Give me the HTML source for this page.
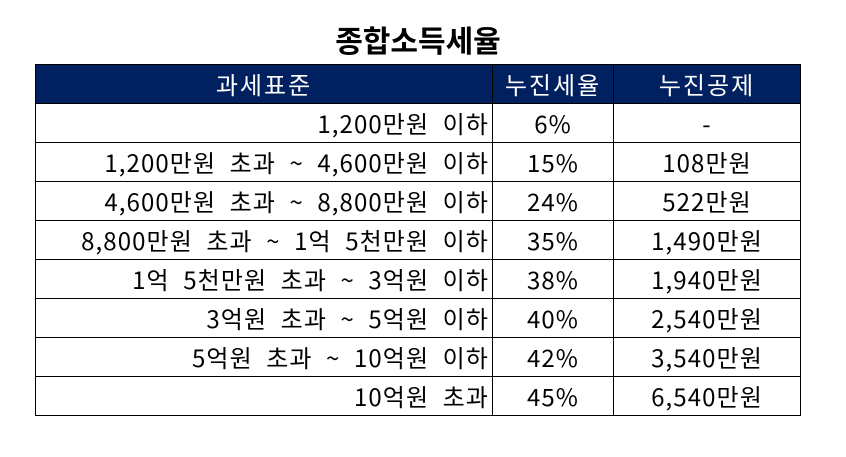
<!DOCTYPE html>
<html><head><meta charset="utf-8"><style>
body{margin:0;width:846px;height:457px;background:#fff;font-family:"Noto Sans CJK KR","Liberation Sans",sans-serif;}
h1{position:absolute;left:0;width:836px;top:19px;margin:0;text-align:center;font-size:30px;font-weight:bold;line-height:40px;color:#000;}
table{position:absolute;left:35px;top:64px;border-collapse:collapse;font-size:24px;letter-spacing:1.1px;word-spacing:7px;}
td,th{border:1px solid #000;height:38px;padding:0 3px;line-height:38px;white-space:nowrap;font-weight:normal;overflow:hidden;}
th{background:#002060;color:#fff;text-align:center;font-size:24px;letter-spacing:2px;}
td{text-align:center;}
td.l{text-align:right;}
</style></head><body>
<h1>종합소득세율</h1>
<table>
<colgroup><col style="width:457px"><col style="width:121px"><col style="width:187px"></colgroup>
<tr><th>과세표준</th><th>누진세율</th><th>누진공제</th></tr>
<tr><td class="l">1,200만원 이하</td><td>6%</td><td>-</td></tr>
<tr><td class="l">1,200만원 초과 ~ 4,600만원 이하</td><td>15%</td><td>108만원</td></tr>
<tr><td class="l">4,600만원 초과 ~ 8,800만원 이하</td><td>24%</td><td>522만원</td></tr>
<tr><td class="l">8,800만원 초과 ~ 1억 5천만원 이하</td><td>35%</td><td>1,490만원</td></tr>
<tr><td class="l">1억 5천만원 초과 ~ 3억원 이하</td><td>38%</td><td>1,940만원</td></tr>
<tr><td class="l">3억원 초과 ~ 5억원 이하</td><td>40%</td><td>2,540만원</td></tr>
<tr><td class="l">5억원 초과 ~ 10억원 이하</td><td>42%</td><td>3,540만원</td></tr>
<tr><td class="l">10억원 초과</td><td>45%</td><td>6,540만원</td></tr>
</table>
</body></html>
